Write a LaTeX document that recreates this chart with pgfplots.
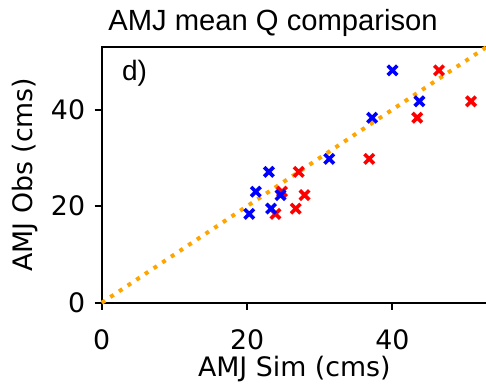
\documentclass[border=0pt]{standalone}
\usepackage{fontspec}
\setmainfont{DejaVu Sans}
\newfontfamily\arialf{Liberation Sans}
\usepackage{pgfplots}
\pgfplotsset{compat=1.18}
\definecolor{mplorange}{RGB}{255,165,0}
\begin{document}
\begin{tikzpicture}
\begin{axis}[
  name=ax,
  scale only axis,
  width=192.7pt, height=128.1pt,
  xmin=0, xmax=53, ymin=0, ymax=53,
  xtick={0,20,40}, ytick={0,20,40},
  tick pos=left,
  tick align=outside,
  major tick length=3.5pt,
  every tick/.style={black, line width=1pt},
  axis line style={line width=1pt},
  /pgf/number format/assume math mode=true,
  tick label style={font=\fontsize{13.4}{15}\selectfont},
  xticklabel style={inner sep=0pt, anchor=north, yshift=-9.85pt},
  yticklabel style={inner sep=0pt, anchor=east, xshift=-4.6pt},
  label style={font=\fontsize{13.4}{15}\selectfont},
  xlabel={AMJ Sim (cms)},
  ylabel={AMJ Obs (cms)},
  xlabel style={at={(axis description cs:0.5,-0.2576)}, anchor=center, inner sep=0pt},
  ylabel style={at={(axis description cs:-0.199,0.5)}, anchor=center, inner sep=0pt},
  every axis title/.style={at={(0,1)}, anchor=base west, xshift=3.15pt, yshift=8pt, inner sep=0pt, font=\arialf\fontsize{14.6}{17}\selectfont},
  title={AMJ mean Q comparison},
  clip=false,
]
\addplot[only marks, mark=x, mark size=3.35pt, color=red, mark options={line width=1.8pt}] coordinates {
  (46.4,48.1) (50.8,41.7) (43.4,38.3) (36.8,29.8) (27.1,27.1)
  (24.8,23.0) (27.9,22.3) (26.7,19.5) (23.9,18.4)
};
\addplot[only marks, mark=x, mark size=3.35pt, color=blue, mark options={line width=1.8pt}] coordinates {
  (40.0,48.1) (43.7,41.7) (37.2,38.3) (31.3,29.8) (23.0,27.1)
  (21.2,23.0) (24.6,22.3) (23.3,19.5) (20.3,18.4)
};
\addplot[mplorange, line width=2pt, dash pattern=on 2pt off 3.2pt] coordinates {(0,0) (53,53)};
\node[anchor=base west, inner sep=0pt, font=\arialf\fontsize{14}{17}\selectfont] at ([xshift=10pt, yshift=-17pt]rel axis cs:0,1) {d)};
\end{axis}
\pgfresetboundingbox
\useasboundingbox ([xshift=-50.85pt, yshift=-40.15pt]ax.south west) rectangle ([xshift=-0.5pt, yshift=23.35pt]ax.north east);
\end{tikzpicture}
\end{document}
